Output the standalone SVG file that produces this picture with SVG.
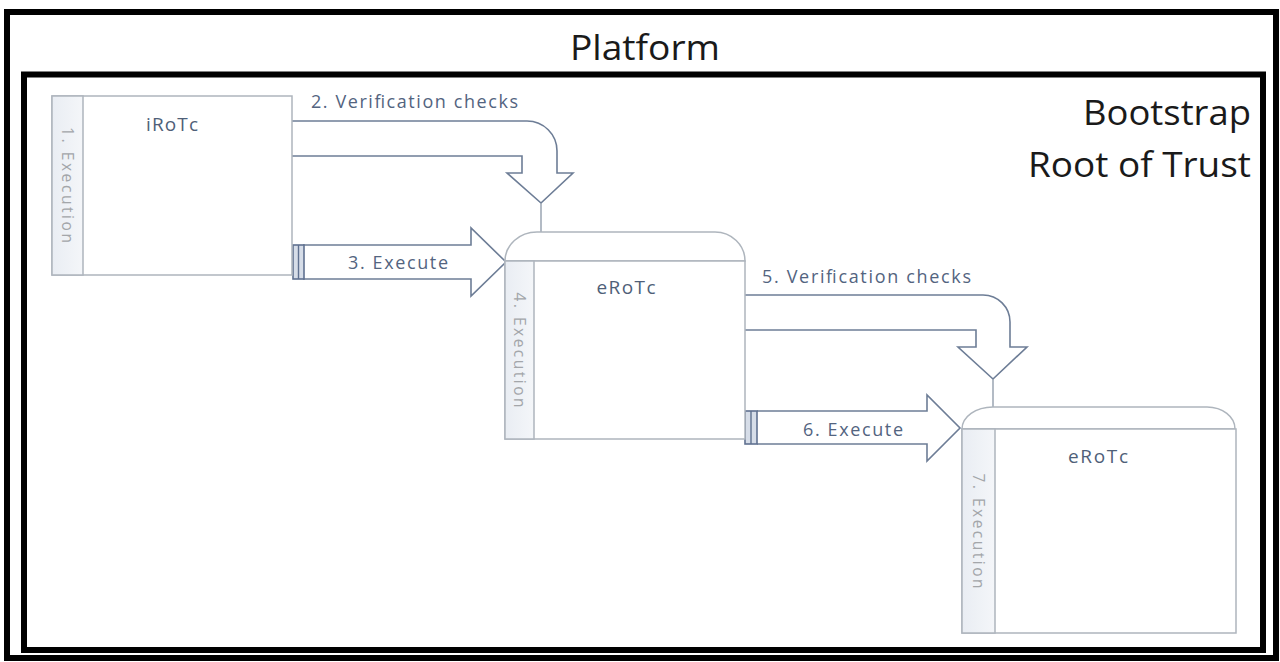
<svg xmlns="http://www.w3.org/2000/svg" width="1280" height="662" viewBox="0 0 1280 662">
<style>
.frame{fill:none;stroke:#000;stroke-width:6}
.big{font-family:"Open Sans","Liberation Sans",sans-serif;fill:#1a1a1a}
.box{fill:#fff;stroke:#aeb5bd;stroke-width:1.5}
.band{fill:url(#bandg);stroke:#aeb5bd;stroke-width:1.5}
.bandtxt{font-family:"Open Sans","Liberation Sans",sans-serif;font-size:15.5px;fill:#a3a6aa;text-anchor:middle}
.title{font-family:"Open Sans","Liberation Sans",sans-serif;font-size:19px;fill:#4f5f78;text-anchor:middle}
.arrow{fill:#fff;stroke:#6d7d96;stroke-width:1.6;stroke-linejoin:miter}
.link{fill:none;stroke:#9aa4b2;stroke-width:1.5}
.bar{fill:#d6dde8;stroke:#5f7190;stroke-width:1.6}
.lbl{font-family:"Open Sans","Liberation Sans",sans-serif;font-size:18px;fill:#53647f}
</style>
<defs>
<linearGradient id="bandg" x1="0" y1="0" x2="1" y2="0">
<stop offset="0" stop-color="#e9edf3"/>
<stop offset="1" stop-color="#f4f6f9"/>
</linearGradient>
</defs>
<rect width="1280" height="662" fill="#fff"/>
<g id="platform">
<rect class="frame" x="7" y="12" width="1269" height="646"/>
<text class="big" x="645" y="60" font-size="34" text-anchor="middle" textLength="150" lengthAdjust="spacingAndGlyphs">Platform</text>
</g>
<g id="bootstrap-rot">
<rect class="frame" x="24" y="74.5" width="1239" height="575.5"/>
<text class="big" x="1251" y="125" font-size="35" text-anchor="end" textLength="168" lengthAdjust="spacingAndGlyphs">Bootstrap</text>
<text class="big" x="1251" y="177" font-size="35" text-anchor="end" textLength="223" lengthAdjust="spacingAndGlyphs">Root of Trust</text>
</g>
<g id="connectors">
<path class="arrow" d="M292,121 L527,121 A30,30 0 0 1 557,151 L557,173 L573,173 L541,203 L507,173 L522,173 L522,156 L292,156"/>
<line class="link" x1="541" y1="203" x2="541" y2="232"/>
<text class="lbl" x="311" y="108" textLength="207" lengthAdjust="spacing">2. Verification checks</text>
<path class="arrow" d="M303,245 L471,245 L471,228 L506,262 L471,296 L471,279 L303,279"/>
<rect class="bar" x="293" y="245" width="11" height="34"/>
<line x1="298.5" y1="245" x2="298.5" y2="279" stroke="#5f7190" stroke-width="1.4"/>
<text class="lbl" x="348" y="269" textLength="100" lengthAdjust="spacing">3. Execute</text>
<path class="arrow" d="M745,295 L983,295 A27,27 0 0 1 1010,322 L1010,347 L1027,347 L993,379 L958,347 L976,347 L976,330 L745,330"/>
<line class="link" x1="993" y1="379" x2="993" y2="407"/>
<text class="lbl" x="762" y="283" textLength="209" lengthAdjust="spacing">5. Verification checks</text>
<path class="arrow" d="M757,411 L927,411 L927,395 L960,428 L927,461 L927,444 L757,444"/>
<rect class="bar" x="745" y="411" width="12" height="33"/>
<line x1="751" y1="411" x2="751" y2="444" stroke="#5f7190" stroke-width="1.4"/>
<text class="lbl" x="803" y="436" textLength="100" lengthAdjust="spacing">6. Execute</text>
</g>
<g id="node-irotc">
<rect class="box" x="52" y="96" width="240" height="179"/>
<rect class="band" x="52" y="96" width="31" height="179"/>
<text class="bandtxt" x="67" y="190.5" transform="rotate(90 67 185)" textLength="116" lengthAdjust="spacing">1. Execution</text>
<text class="title" x="172" y="131" textLength="52" lengthAdjust="spacing">iRoTc</text>
</g>
<g id="node-erotc-1">
<path class="box" d="M505,261 A32,29 0 0 1 537,232 L715,232 A30,29 0 0 1 745,261 Z"/>
<rect class="box" x="505" y="261" width="240" height="178"/>
<rect class="band" x="505" y="261" width="29" height="178"/>
<text class="bandtxt" x="519" y="355.5" transform="rotate(90 519 350)" textLength="115" lengthAdjust="spacing">4. Execution</text>
<text class="title" x="626" y="294" textLength="59" lengthAdjust="spacing">eRoTc</text>
</g>
<g id="node-erotc-2">
<path class="box" d="M962,429 A31,22 0 0 1 993,407 L1207,407 A28,22 0 0 1 1235,429 Z"/>
<rect class="box" x="962" y="429" width="274" height="204"/>
<rect class="band" x="962" y="429" width="33" height="204"/>
<text class="bandtxt" x="978" y="536.5" transform="rotate(90 978 531)" textLength="115" lengthAdjust="spacing">7. Execution</text>
<text class="title" x="1098" y="463" textLength="60" lengthAdjust="spacing">eRoTc</text>
</g>
</svg>
